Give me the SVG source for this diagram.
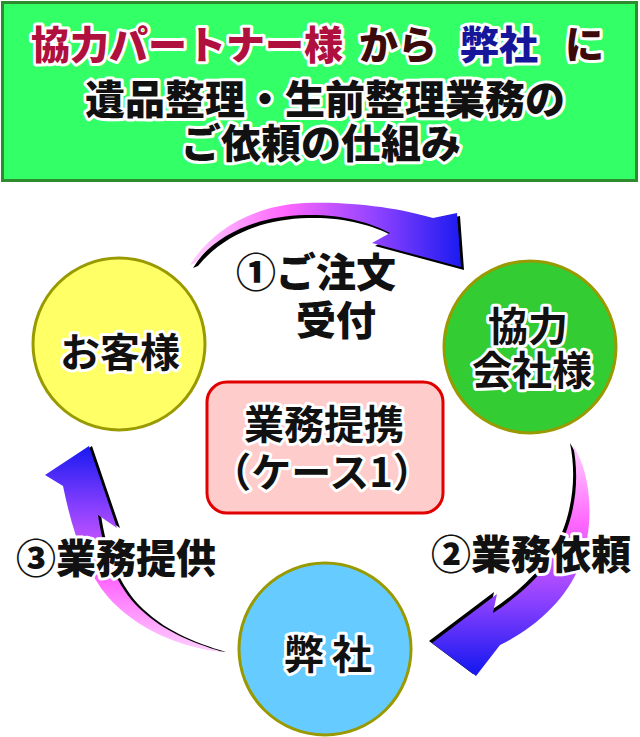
<svg xmlns="http://www.w3.org/2000/svg" width="640" height="737" viewBox="0 0 640 737">
<defs>
<linearGradient id="g1" gradientUnits="userSpaceOnUse" x1="190" y1="0" x2="462" y2="0">
<stop offset="0" stop-color="#FFD0FF"/><stop offset="0.35" stop-color="#FF66FF"/><stop offset="0.7" stop-color="#8A40FF"/><stop offset="1" stop-color="#1A1AF0"/>
</linearGradient>
<linearGradient id="g2" gradientUnits="userSpaceOnUse" x1="0" y1="445" x2="0" y2="670">
<stop offset="0" stop-color="#FFD0FF"/><stop offset="0.35" stop-color="#FF66FF"/><stop offset="0.7" stop-color="#8A40FF"/><stop offset="1" stop-color="#1A1AF0"/>
</linearGradient>
<linearGradient id="g3" gradientUnits="userSpaceOnUse" x1="0" y1="652" x2="0" y2="447">
<stop offset="0" stop-color="#FFD0FF"/><stop offset="0.35" stop-color="#FF66FF"/><stop offset="0.7" stop-color="#8A40FF"/><stop offset="1" stop-color="#1A1AF0"/>
</linearGradient>
</defs>
<style>
.sans{font-family:"Noto Sans CJK JP","Noto Sans",sans-serif;font-weight:900;}
.ser{font-family:"Noto Sans CJK JP","Noto Sans",serif;font-weight:700;}
.ol{stroke:#FFFFFF;stroke-width:6;stroke-linejoin:round;paint-order:stroke;}
.lbl{font-size:40px;fill:#111111;}
.circ{stroke:#999900;stroke-width:3;}
.shadow{fill:#000000;}
</style>
<rect width="640" height="737" fill="#FFFFFF"/>
<g id="header">
<rect x="2.5" y="2.5" width="634" height="178" fill="#33FF66" stroke="#2E8B2E" stroke-width="3"/>
<text class="sans ol" font-size="39" y="42" dominant-baseline="central"><tspan x="31" fill="#B0103E">協力パートナー様</tspan><tspan x="359" fill="#3C0A0A">から</tspan><tspan x="460" fill="#16169A">弊社</tspan><tspan x="565" fill="#3C0A0A">に</tspan></text>
<text class="sans ol" font-size="40" x="325" y="97" text-anchor="middle" dominant-baseline="central" fill="#111111">遺品整理・生前整理業務の</text>
<text class="sans ol" font-size="40" x="321" y="141" text-anchor="middle" dominant-baseline="central" fill="#111111">ご依頼の仕組み</text>
</g>
<g id="connectors">
<g id="arrow1">
<path class="shadow" transform="translate(3,3)" d="M190,265 C215,225 260,205 305,203 C350,201 400,208 433,218 L457,213 L461,267 L372,243 L390,233 C370,222 340,214 305,215 C260,216 220,232 195,263 Z"/>
<path fill="url(#g1)" d="M190,265 C215,225 260,205 305,203 C350,201 400,208 433,218 L457,213 L461,267 L372,243 L390,233 C370,222 340,214 305,215 C260,216 220,232 195,263 Z"/>
</g>
<g id="arrow2">
<path class="shadow" transform="translate(-3,-2)" d="M573,445 C592,475 595,525 580,565 C566,600 535,628 500,645 L476,676 L432,643 L497,594 L493,613 C525,592 553,565 566,532 C578,500 578,470 573,445 Z"/>
<path fill="url(#g2)" d="M573,445 C592,475 595,525 580,565 C566,600 535,628 500,645 L476,676 L432,643 L497,594 L493,613 C525,592 553,565 566,532 C578,500 578,470 573,445 Z"/>
</g>
<g id="arrow3">
<path class="shadow" transform="translate(3,0)" d="M223,652 C180,648 135,628 108,597 C85,570 72,530 63,486 L45,475 L89,446 L117,528 L98,515 C103,550 115,582 135,604 C160,630 190,642 223,652 Z"/>
<path fill="url(#g3)" d="M223,652 C180,648 135,628 108,597 C85,570 72,530 63,486 L45,475 L89,446 L117,528 L98,515 C103,550 115,582 135,604 C160,630 190,642 223,652 Z"/>
</g>
</g>
<g id="customer">
<circle class="circ" cx="119" cy="344" r="86" fill="#FFFF66"/>
<text class="ser ol lbl" font-size="42" x="120" y="350" text-anchor="middle" dominant-baseline="central">お客様</text>
</g>
<g id="partner">
<circle class="circ" cx="530" cy="347" r="86" fill="#33CC33"/>
<text class="ser ol lbl" font-size="40" x="528" y="324" text-anchor="middle" dominant-baseline="central">協力</text>
<text class="ser ol lbl" font-size="42" x="532" y="368" text-anchor="middle" dominant-baseline="central">会社様</text>
</g>
<g id="company">
<circle class="circ" cx="325" cy="649" r="86" fill="#66CCFF"/>
<text class="ser ol lbl" font-size="44" y="652" text-anchor="middle" dominant-baseline="central"><tspan x="304">弊</tspan><tspan x="352">社</tspan></text>
</g>
<g id="center">
<rect x="207" y="382" width="236" height="131" rx="20" fill="#FFCCCC" stroke="#E00000" stroke-width="3"/>
<text class="ser ol lbl" font-size="46" x="324" y="422" text-anchor="middle" dominant-baseline="central">業務提携</text>
<text class="ser ol lbl" font-size="34" x="322" y="470" text-anchor="middle" dominant-baseline="central">（ケース1）</text>
</g>
<g id="labels">
<text class="sans ol lbl" x="316" y="270" text-anchor="middle" dominant-baseline="central">①ご注文</text>
<text class="sans ol lbl" x="336" y="318" text-anchor="middle" dominant-baseline="central">受付</text>
<text class="sans ol lbl" x="531" y="552" text-anchor="middle" dominant-baseline="central">②業務依頼</text>
<text class="sans ol lbl" x="116" y="556" text-anchor="middle" dominant-baseline="central">③業務提供</text>
</g>
</svg>
